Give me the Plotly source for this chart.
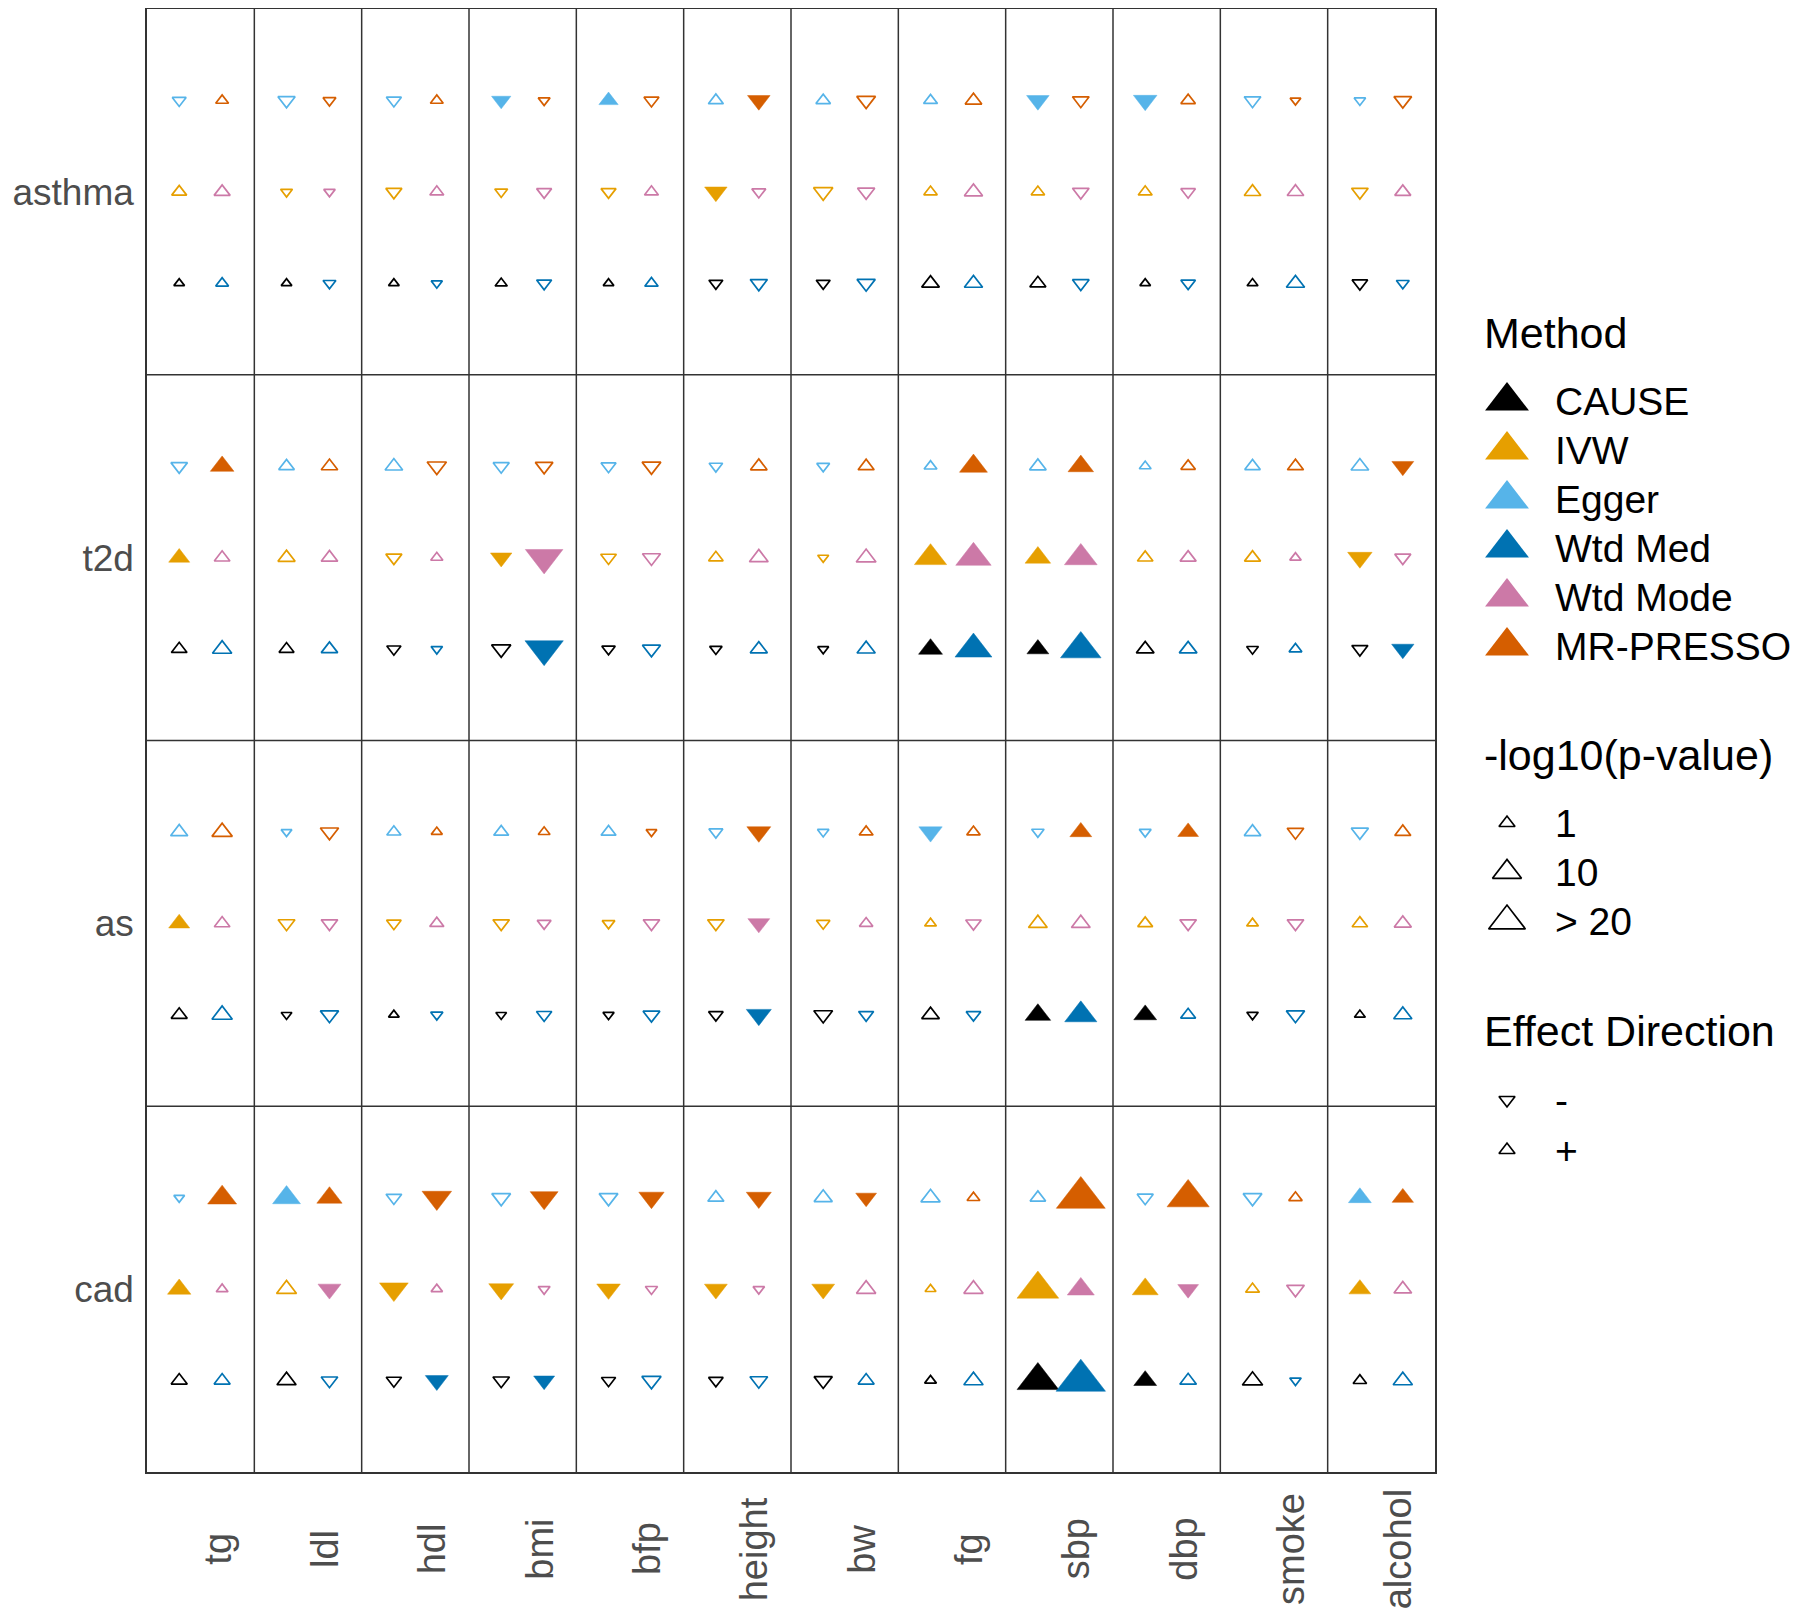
import numpy as np
import plotly.graph_objects as go

# ---------------- data ----------------
exposures = ["tg", "ldl", "hdl", "bmi", "bfp", "height", "bw", "fg", "sbp", "dbp", "smoke", "alcohol"]
outcomes = ["asthma", "t2d", "as", "cad"]
methods = ["CAUSE", "IVW", "Egger", "Wtd Med", "Wtd Mode", "MR-PRESSO"]
method_colors = ["#000000", "#E69F00", "#56B4E9", "#0072B2", "#CC79A7", "#D55E00"]

# signed -log10(p-value): sign = effect direction; rows = outcomes, columns = exposures
cause_logp = [
    [0.01, 0.01, 0.01, 0.12, 0.01, -0.41, -0.41, 1.61, 1.0, 0.01, 0.02, -0.83],
    [0.86, 0.67, -0.46, -2.32, -0.30, -0.15, -0.02, 5.36, 3.89, 1.61, -0.08, -1.0],
    [1.0, -0.01, 0.01, -0.01, -0.03, -0.56, -2.10, 1.61, 6.69, 4.56, -0.05, 0.02],
    [1.0, 2.32, -0.76, -1.15, -0.46, -0.56, -1.85, 0.08, 28.0, 4.56, 2.90, 0.32],
]
ivw_logp = [
    [0.67, -0.08, -1.0, -0.21, -0.67, -4.33, -2.37, 0.32, 0.32, 0.41, 1.19, -1.19],
    [3.35, 1.39, -1.0, -3.61, -0.86, 0.56, -0.02, 13.7, 6.69, 0.83, 1.0, -5.79],
    [3.35, -1.27, -0.56, -1.15, -0.18, -1.19, -0.32, 0.08, 2.10, 0.67, 0.08, 0.83],
    [4.95, 2.72, -9.77, -6.14, -5.11, -4.56, -4.56, 0.02, 28.0, 7.06, 0.41, 3.89],
]
egger_logp = [
    [-0.39, -1.39, -0.67, -2.37, 2.37, 0.67, 0.56, 0.41, -4.33, -5.11, -1.19, -0.05],
    [-1.15, 0.86, 1.57, -1.0, -0.67, -0.32, -0.21, 0.21, 1.19, 0.08, 0.83, 1.61],
    [1.39, -0.01, 0.46, 0.67, 0.67, -0.41, -0.05, -4.95, -0.15, -0.08, 1.19, -1.39],
    [-0.01, 8.89, -0.86, -2.10, -2.10, 1.0, 1.85, 2.37, 0.83, -1.0, -2.10, 4.56],
]
wtdmed_logp = [
    [0.21, -0.21, -0.03, -0.67, 0.30, -1.39, -1.85, 1.85, -1.19, -0.56, 1.85, -0.21],
    [2.37, 1.15, -0.05, -22.4, -1.75, 1.39, 1.85, 20.2, 26.1, 1.61, 0.21, -4.18],
    [2.96, -1.85, -0.12, -0.76, -1.27, -6.23, -0.67, -0.56, 13.7, 0.67, -1.85, 1.85],
    [1.0, -1.15, -4.64, -3.35, -2.32, -1.61, 1.0, 2.37, 43.4, 1.19, -0.05, 2.37],
]
wtdmode_logp = [
    [1.0, -0.05, 0.41, -0.67, 0.41, -0.41, -1.39, 1.85, -1.19, -0.56, 1.19, 1.0],
    [0.86, 1.15, 0.12, -21.2, -1.75, 2.10, 2.60, 18.0, 14.4, 1.0, 0.05, -1.0],
    [0.86, -1.15, 0.46, -0.39, -1.15, -3.89, 0.32, -0.83, 2.10, -1.19, -1.19, 1.39],
    [0.08, -4.64, 0.05, -0.08, -0.12, -0.05, 2.37, 2.37, 8.05, -3.21, -1.61, 1.61],
]
presso_logp = [
    [0.21, -0.21, 0.21, -0.08, -0.67, -4.33, -2.10, 1.19, -1.19, 0.56, -0.01, -1.61],
    [5.11, 1.15, -2.37, -1.57, -2.10, 1.19, 1.0, 8.89, 6.69, 0.56, 1.0, -3.89],
    [2.96, -1.85, 0.03, 0.08, -0.01, -5.36, 0.41, 0.32, 3.89, 3.21, -1.19, 1.0],
    [10.0, 6.50, -10.6, -8.89, -6.50, -6.23, -3.21, 0.21, 42.4, 28.9, 0.32, 3.55],
]

# significance (filled marker) flags
cause_sig = [
    [0, 0, 0, 0, 0, 0, 0, 0, 0, 0, 0, 0],
    [0, 0, 0, 0, 0, 0, 0, 1, 1, 0, 0, 0],
    [0, 0, 0, 0, 0, 0, 0, 0, 1, 1, 0, 0],
    [0, 0, 0, 0, 0, 0, 0, 0, 1, 1, 0, 0],
]
ivw_sig = [
    [0, 0, 0, 0, 0, 1, 0, 0, 0, 0, 0, 0],
    [1, 0, 0, 1, 0, 0, 0, 1, 1, 0, 0, 1],
    [1, 0, 0, 0, 0, 0, 0, 0, 0, 0, 0, 0],
    [1, 0, 1, 1, 1, 1, 1, 0, 1, 1, 0, 1],
]
egger_sig = [
    [0, 0, 0, 1, 1, 0, 0, 0, 1, 1, 0, 0],
    [0, 0, 0, 0, 0, 0, 0, 0, 0, 0, 0, 0],
    [0, 0, 0, 0, 0, 0, 0, 1, 0, 0, 0, 0],
    [0, 1, 0, 0, 0, 0, 0, 0, 0, 0, 0, 1],
]
wtdmed_sig = [
    [0, 0, 0, 0, 0, 0, 0, 0, 0, 0, 0, 0],
    [0, 0, 0, 1, 0, 0, 0, 1, 1, 0, 0, 1],
    [0, 0, 0, 0, 0, 1, 0, 0, 1, 0, 0, 0],
    [0, 0, 1, 1, 0, 0, 0, 0, 1, 0, 0, 0],
]
wtdmode_sig = [
    [0, 0, 0, 0, 0, 0, 0, 0, 0, 0, 0, 0],
    [0, 0, 0, 1, 0, 0, 0, 1, 1, 0, 0, 0],
    [0, 0, 0, 0, 0, 1, 0, 0, 0, 0, 0, 0],
    [0, 1, 0, 0, 0, 0, 0, 0, 1, 1, 0, 0],
]
presso_sig = [
    [0, 0, 0, 0, 0, 1, 0, 0, 0, 0, 0, 0],
    [1, 0, 0, 0, 0, 0, 0, 1, 1, 0, 0, 1],
    [0, 0, 0, 0, 0, 1, 0, 0, 1, 1, 0, 0],
    [1, 1, 1, 1, 1, 1, 1, 0, 1, 1, 0, 1],
]

size_breaks = [1, 10, 20]
size_labels = ["1", "10", "> 20"]
direction_labels = ["-", "+"]

# ---------------- styling ----------------
FONT = "Liberation Sans"
LINE = "#333333"
BODY = 8                      # default page margin around the plot div
W, H = 1800 - BODY, 1615 - BODY
ML, MT = 147 - BODY, 9 - BODY  # plot panel starts at page x=147, y=9
PLOT_W, PLOT_H = 1288, 1463
MB = H - MT - PLOT_H

method_data = {
    "CAUSE": (cause_logp, cause_sig),
    "IVW": (ivw_logp, ivw_sig),
    "Egger": (egger_logp, egger_sig),
    "Wtd Med": (wtdmed_logp, wtdmed_sig),
    "Wtd Mode": (wtdmode_logp, wtdmode_sig),
    "MR-PRESSO": (presso_logp, presso_sig),
}
# position of each method inside a cell (x offset, depth from top of row)
cell_offset = {
    "Egger": (0.3, 0.25), "MR-PRESSO": (0.7, 0.25),
    "IVW": (0.3, 0.50), "Wtd Mode": (0.7, 0.50),
    "CAUSE": (0.3, 0.75), "Wtd Med": (0.7, 0.75),
}


def msize(v):
    return 0.93 * (9.45 + 5.55 * np.sqrt(abs(v)))


n_out, n_exp = len(outcomes), len(exposures)
fig = go.Figure()

for m, col in zip(methods, method_colors):
    vals, sig = method_data[m]
    dx, dy = cell_offset[m]
    xs, ys, sz, sym, lw, txt = [], [], [], [], [], []
    for r in range(n_out):
        for c in range(n_exp):
            v = vals[r][c]
            s = sig[r][c]
            xs.append(c + dx)
            ys.append(n_out - r - dy)
            sz.append(msize(v))
            sym.append(("triangle-up" if v > 0 else "triangle-down") + ("" if s else "-open"))
            lw.append(0.5 if s else 1.7)
            txt.append(f"{m}<br>{exposures[c]} → {outcomes[r]}<br>-log10(p) = {abs(v):.2f}")
    fig.add_trace(go.Scatter(
        x=xs, y=ys, mode="markers", name=m, showlegend=False,
        marker=dict(symbol=sym, size=sz, color=col, opacity=1,
                    line=dict(color=col, width=lw)),
        hovertext=txt, hoverinfo="text", xaxis="x", yaxis="y",
    ))

# cell borders
for i in range(1, n_exp):
    fig.add_shape(type="line", xref="x", yref="y", x0=i, x1=i, y0=0, y1=n_out,
                  line=dict(color=LINE, width=1.5), layer="below")
for j in range(1, n_out):
    fig.add_shape(type="line", xref="x", yref="y", x0=0, x1=n_exp, y0=j, y1=j,
                  line=dict(color=LINE, width=1.5), layer="below")

AX_FONT = dict(family=FONT, size=37, color="#4D4D4D")
XLAB_FONT = dict(family=FONT, size=38, color="#4D4D4D")

# exposure labels (rotated, centred under each column)
for i, e in enumerate(exposures):
    fig.add_annotation(x=i + 0.5, y=0, xref="x", yref="paper", text=e, showarrow=False,
                       textangle=-90, xanchor="center", yanchor="middle",
                       xshift=17, yshift=-77, font=XLAB_FONT)

# ---------------- manual legend (x2/y2 in page pixel units) ----------------
LX_KEY, LX_TXT, LX_TITLE = 1507, 1553, 1482
TITLE_FONT = dict(family=FONT, size=43, color="#000000")
LAB_FONT = dict(family=FONT, size=39, color="#000000")


def legend_text(x, y, t, font):
    fig.add_annotation(x=x, y=y, xref="x2", yref="y2", text=t, showarrow=False,
                       xanchor="left", yanchor="middle", font=font)


# Method
legend_text(LX_TITLE, 333, "Method", TITLE_FONT)
m_y = [401 + 49 * i for i in range(len(methods))]
fig.add_trace(go.Scatter(
    x=[LX_KEY] * len(methods), y=m_y, mode="markers", showlegend=False, hoverinfo="skip",
    marker=dict(symbol="triangle-up", size=38, color=method_colors, opacity=1, line=dict(width=0)),
    xaxis="x2", yaxis="y2"))
for yy, m in zip(m_y, methods):
    legend_text(LX_TXT, yy, m, LAB_FONT)

# -log10(p-value)
legend_text(LX_TITLE, 755, "-log10(p-value)", TITLE_FONT)
s_y = [823 + 49 * i for i in range(len(size_breaks))]
fig.add_trace(go.Scatter(
    x=[LX_KEY] * len(size_breaks), y=s_y, mode="markers", showlegend=False, hoverinfo="skip",
    marker=dict(symbol="triangle-up-open", size=[msize(v) for v in size_breaks], opacity=1,
                color="#000000", line=dict(color="#000000", width=1.7)),
    xaxis="x2", yaxis="y2"))
for yy, t in zip(s_y, size_labels):
    legend_text(LX_TXT, yy, t, LAB_FONT)

# Effect Direction
legend_text(LX_TITLE, 1031, "Effect Direction", TITLE_FONT)
d_y = [1100 + 50 * i for i in range(len(direction_labels))]
fig.add_trace(go.Scatter(
    x=[LX_KEY] * 2, y=d_y, mode="markers", showlegend=False, hoverinfo="skip",
    marker=dict(symbol=["triangle-down-open", "triangle-up-open"], size=msize(1), opacity=1,
                color="#000000", line=dict(color="#000000", width=1.7)),
    xaxis="x2", yaxis="y2"))
for yy, t in zip(d_y, direction_labels):
    legend_text(LX_TXT, yy, t, LAB_FONT)

paper_w = W - ML
LEG_X0 = 1460  # page x where the legend axis starts
fig.update_layout(
    width=W, height=H,
    margin=dict(l=ML, r=0, t=MT, b=MB, pad=0, autoexpand=False),
    paper_bgcolor="white", plot_bgcolor="white",
    font=dict(family=FONT),
    xaxis=dict(domain=[0, PLOT_W / paper_w], range=[0, n_exp], showgrid=False, zeroline=False,
               showticklabels=False, ticks="", showline=True, mirror=True, automargin=False,
               linecolor=LINE, linewidth=1.5, fixedrange=True),
    yaxis=dict(domain=[0, 1], range=[0, n_out], showgrid=False, zeroline=False,
               tickmode="array", tickvals=[n_out - r - 0.5 for r in range(n_out)],
               ticktext=outcomes, ticks="", ticklabelstandoff=4, automargin=False,
               tickfont=AX_FONT,
               showline=True, mirror=True, linecolor=LINE, linewidth=1.5, fixedrange=True),
    xaxis2=dict(domain=[(LEG_X0 - BODY - ML) / paper_w, 1], range=[LEG_X0, W + BODY],
                visible=False, anchor="y2", fixedrange=True, automargin=False),
    yaxis2=dict(domain=[0, 1], range=[MT + BODY + PLOT_H, MT + BODY], visible=False,
                anchor="x2", fixedrange=True, automargin=False),
)

fig.write_html("out.html")
